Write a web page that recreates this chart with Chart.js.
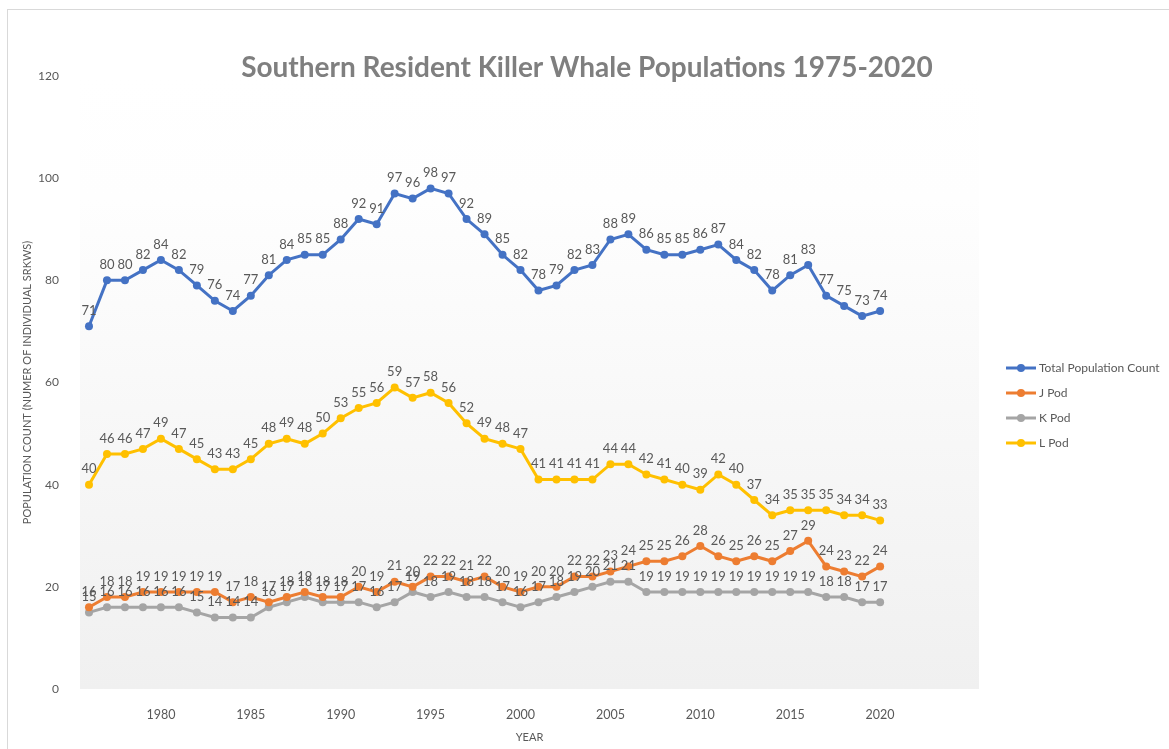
<!DOCTYPE html>
<html>
<head>
<meta charset="utf-8">
<title>Southern Resident Killer Whale Populations</title>
<script src="https://cdn.jsdelivr.net/npm/chart.js@4"></script>
<style>
  html, body { margin: 0; padding: 0; background: #fff; }
  #wrap { width: 1169px; height: 749px; }
</style>
</head>
<body>
<div id="wrap"><canvas id="popChart" width="1169" height="749"></canvas></div>
<script>
const years = [1976, 1977, 1978, 1979, 1980, 1981, 1982, 1983, 1984, 1985,
  1986, 1987, 1988, 1989, 1990, 1991, 1992, 1993, 1994, 1995,
  1996, 1997, 1998, 1999, 2000, 2001, 2002, 2003, 2004, 2005,
  2006, 2007, 2008, 2009, 2010, 2011, 2012, 2013, 2014, 2015,
  2016, 2017, 2018, 2019, 2020];

const totalCount = [71, 80, 80, 82, 84, 82, 79, 76, 74, 77,
  81, 84, 85, 85, 88, 92, 91, 97, 96, 98,
  97, 92, 89, 85, 82, 78, 79, 82, 83, 88,
  89, 86, 85, 85, 86, 87, 84, 82, 78, 81,
  83, 77, 75, 73, 74];

const jPod = [16, 18, 18, 19, 19, 19, 19, 19, 17, 18,
  17, 18, 19, 18, 18, 20, 19, 21, 20, 22,
  22, 21, 22, 20, 19, 20, 20, 22, 22, 23,
  24, 25, 25, 26, 28, 26, 25, 26, 25, 27,
  29, 24, 23, 22, 24];

const kPod = [15, 16, 16, 16, 16, 16, 15, 14, 14, 14,
  16, 17, 18, 17, 17, 17, 16, 17, 19, 18,
  19, 18, 18, 17, 16, 17, 18, 19, 20, 21,
  21, 19, 19, 19, 19, 19, 19, 19, 19, 19,
  19, 18, 18, 17, 17];

const lPod = [40, 46, 46, 47, 49, 47, 45, 43, 43, 45,
  48, 49, 48, 50, 53, 55, 56, 59, 57, 58,
  56, 52, 49, 48, 47, 41, 41, 41, 41, 44,
  44, 42, 41, 40, 39, 42, 40, 37, 34, 35,
  35, 35, 34, 34, 33];

const yearTicks = [1980, 1985, 1990, 1995, 2000, 2005, 2010, 2015, 2020];
const seriesNames = ['Total Population Count', 'J Pod', 'K Pod', 'L Pod'];
const seriesColors = ['#4472C4', '#ED7D31', '#A5A5A5', '#FFC000'];

const chartTitle = 'Southern Resident Killer Whale Populations 1975-2020';
const yTitle = 'POPULATION COUNT (NUMER OF INDIVIDUAL SRKWS)';
const xTitle = 'YEAR';

const FONT = 'Lato, "Open Sans", sans-serif';
const TEXT_COLOR = '#595959';

const toPoints = (vals) => vals.map((v, i) => ({ x: years[i], y: v }));

const makeDataset = (name, vals, color) => ({
  label: name,
  data: toPoints(vals),
  borderColor: color,
  backgroundColor: color,
  borderWidth: 3,
  pointRadius: 4,
  pointHoverRadius: 4,
  pointBorderWidth: 0,
  tension: 0,
});

// background, frame and plot-area gradient
const backdrop = {
  id: 'backdrop',
  beforeDraw(chart) {
    const { ctx, chartArea: a } = chart;
    ctx.save();
    ctx.fillStyle = '#fff';
    ctx.fillRect(0, 0, chart.width, chart.height);
    ctx.strokeStyle = '#d9d9d9';
    ctx.lineWidth = 1;
    ctx.strokeRect(7.5, 9.5, chart.width + 20, chart.height + 20);
    const g = ctx.createLinearGradient(0, a.top, 0, a.bottom);
    g.addColorStop(0, '#ffffff');
    g.addColorStop(0.2, '#fefefe');
    g.addColorStop(1, '#f0f0f0');
    ctx.fillStyle = g;
    ctx.fillRect(a.left, a.top, a.right - a.left, a.bottom - a.top);
    ctx.restore();
  }
};

// value labels above each marker
const valueLabels = {
  id: 'valueLabels',
  afterDatasetsDraw(chart) {
    const { ctx } = chart;
    ctx.save();
    ctx.font = '13px ' + FONT;
    ctx.fillStyle = TEXT_COLOR;
    ctx.textAlign = 'center';
    ctx.textBaseline = 'bottom';
    chart.data.datasets.forEach((ds, di) => {
      chart.getDatasetMeta(di).data.forEach((pt, i) => {
        ctx.fillText(String(ds.data[i].y), pt.x, pt.y - 9);
      });
    });
    ctx.restore();
  }
};

// title, axis titles and legend
const decorations = {
  id: 'decorations',
  afterDraw(chart) {
    const { ctx, chartArea: a } = chart;
    ctx.save();
    ctx.fillStyle = '#7f7f7f';
    ctx.font = 'bold 28px ' + FONT;
    ctx.textAlign = 'center';
    ctx.textBaseline = 'middle';
    ctx.fillText(chartTitle, 587, 68);

    ctx.fillStyle = TEXT_COLOR;
    ctx.font = '11px ' + FONT;
    ctx.fillText(xTitle, (a.left + a.right) / 2, 737);
    ctx.translate(27, (a.top + a.bottom) / 2);
    ctx.rotate(-Math.PI / 2);
    ctx.fillText(yTitle, 0, 0);
    ctx.restore();

    ctx.save();
    const lx = a.right + 27;
    seriesNames.forEach((name, i) => {
      const ly = 368 + i * 25;
      ctx.strokeStyle = seriesColors[i];
      ctx.lineWidth = 3;
      ctx.beginPath();
      ctx.moveTo(lx, ly);
      ctx.lineTo(lx + 30, ly);
      ctx.stroke();
      ctx.fillStyle = seriesColors[i];
      ctx.beginPath();
      ctx.arc(lx + 15, ly, 4, 0, Math.PI * 2);
      ctx.fill();
      ctx.fillStyle = TEXT_COLOR;
      ctx.font = '12px ' + FONT;
      ctx.textAlign = 'left';
      ctx.textBaseline = 'middle';
      ctx.fillText(name, lx + 33, ly);
    });
    ctx.restore();
  }
};

new Chart(document.getElementById('popChart'), {
  type: 'line',
  data: {
    datasets: [
      makeDataset(seriesNames[0], totalCount, seriesColors[0]),
      makeDataset(seriesNames[1], jPod, seriesColors[1]),
      makeDataset(seriesNames[2], kPod, seriesColors[2]),
      makeDataset(seriesNames[3], lPod, seriesColors[3]),
    ]
  },
  options: {
    responsive: false,
    animation: false,
    layout: { padding: { left: 0, top: 76, right: 190, bottom: 0 } },
    plugins: {
      legend: { display: false },
      title: { display: false },
      tooltip: { enabled: false },
    },
    scales: {
      x: {
        type: 'linear',
        min: 1975.5,
        max: 2025.5,
        grid: { display: false },
        border: { display: false },
        afterBuildTicks: (s) => { s.ticks = yearTicks.map(v => ({ value: v })); },
        afterFit: (s) => { s.height = 60; },
        ticks: {
          padding: 10,
          maxRotation: 0,
          color: TEXT_COLOR,
          font: { family: FONT, size: 12.5 },
          callback: (v) => String(v),
        }
      },
      y: {
        min: 0,
        max: 120,
        grid: { display: false },
        border: { display: false },
        afterFit: (s) => { s.width = 80; },
        ticks: {
          stepSize: 20,
          padding: 13,
          color: TEXT_COLOR,
          font: { family: FONT, size: 12 },
        }
      }
    }
  },
  plugins: [backdrop, valueLabels, decorations]
});
</script>
</body>
</html>
